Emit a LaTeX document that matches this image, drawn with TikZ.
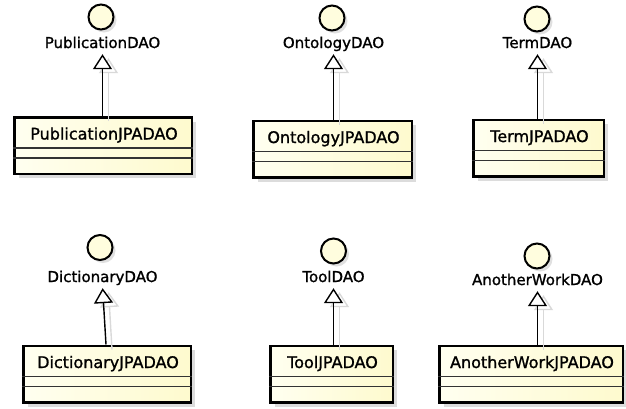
\documentclass[tikz,border=0pt]{standalone}
\usepackage{fontspec}
\setmainfont{DejaVu Sans}
\newfontfamily\umlfont[FakeBold=1.2]{DejaVu Sans}
\usetikzlibrary{arrows.meta,calc,shadows}

\definecolor{ifill}{RGB}{255,253,222}
\definecolor{ctop}{RGB}{255,255,240}
\definecolor{cbot}{RGB}{254,250,206}

\tikzset{
  cls/.style={draw=black, line width=2.5pt, left color=ctop, right color=cbot,
    inner sep=0pt, minimum height=56.5pt,
    drop shadow={shadow xshift=4.5pt, shadow yshift=-4.5pt, fill=black!25, opacity=.55}},
  clsname/.style={font=\umlfont\fontsize{16}{18}\selectfont, inner sep=0pt, anchor=base},
  sep/.style={draw=black!80, line width=1.4pt},
  iface/.style={circle, draw=black, line width=2pt, fill=ifill, minimum size=25pt, inner sep=0pt,
    drop shadow={shadow xshift=3pt, shadow yshift=-3pt, fill=black!30, opacity=.4}},
  ilabel/.style={font=\umlfont\fontsize{15}{18}\selectfont, text height=11pt, text depth=3pt,
    inner sep=1pt, anchor=base},
  gen/.style={draw=black, line width=1.4pt, shorten >=2pt,
    -{Triangle[length=15pt,width=19pt,fill=white]}},
  gshadow/.style={draw=black!15, line width=1.4pt, shorten >=2pt,
    -{Triangle[open,length=15pt,width=19pt]}}
}

\begin{document}
\begin{tikzpicture}[x=1pt,y=-1pt]
\useasboundingbox (0,0) rectangle (626,408);

% ---------- implementation classes ----------
\node[cls, minimum width=177.5pt] (pubc) at (103,145.5) {};
\node[cls, minimum width=158.5pt] (ontc) at (332.5,149) {};
\node[cls, minimum width=130.5pt] (terc) at (538.5,148) {};
\node[cls, minimum width=167.5pt] (dicc) at (107,374) {};
\node[cls, minimum width=122.5pt] (tooc) at (331.5,374) {};
\node[cls, minimum width=183.5pt] (anoc) at (531,374) {};

% compartments and class names
\foreach \c/\t in {pubc/PublicationJPADAO, ontc/OntologyJPADAO, terc/TermJPADAO,
                   dicc/DictionaryJPADAO, tooc/ToolJPADAO, anoc/AnotherWorkJPADAO}{
  \draw[sep] ($(\c.north west)+(0,32)$) -- ($(\c.north east)+(0,32)$);
  \draw[sep] ($(\c.north west)+(0,42)$) -- ($(\c.north east)+(0,42)$);
  \node[clsname] (\c-name) at ($(\c.north)+(1,23.5)$) {\t};
}

% ---------- interfaces (lollipop) ----------
\node[iface] (pubo) at (101,17) {};
\node[iface] (onto) at (332,18) {};
\node[iface] (tero) at (537,19) {};
\node[iface] (dico) at (100,247.5) {};
\node[iface] (tooo) at (333.5,251) {};
\node[iface] (anoo) at (537,256) {};

\node[ilabel] (publ) at (102.5,48) {PublicationDAO};
\node[ilabel] (ontl) at (333.5,48) {OntologyDAO};
\node[ilabel] (terl) at (537.5,48) {TermDAO};
\node[ilabel] (dicl) at (102.5,282) {DictionaryDAO};
\node[ilabel] (tool) at (333.5,282) {ToolDAO};
\node[ilabel] (anol) at (537.5,285) {AnotherWorkDAO};

% ---------- realization arrows ----------
\foreach \c/\l in {pubc/publ, ontc/ontl, terc/terl, tooc/tool, anoc/anol}{
  \draw[gshadow] ($(\c.north -| \l.south)+(6,5)$) -- ($(\l.south)+(6,4)$);
  \draw[gen] (\c.north -| \l.south) -- (\l.south);
}
\draw[gshadow] ($(dicc.north)+(5,5)$) -- ($(dicl.south)+(6,4)$);
\draw[gen] ($(dicc.north)+(-1,0)$) -- (dicl.south);
\end{tikzpicture}
\end{document}
